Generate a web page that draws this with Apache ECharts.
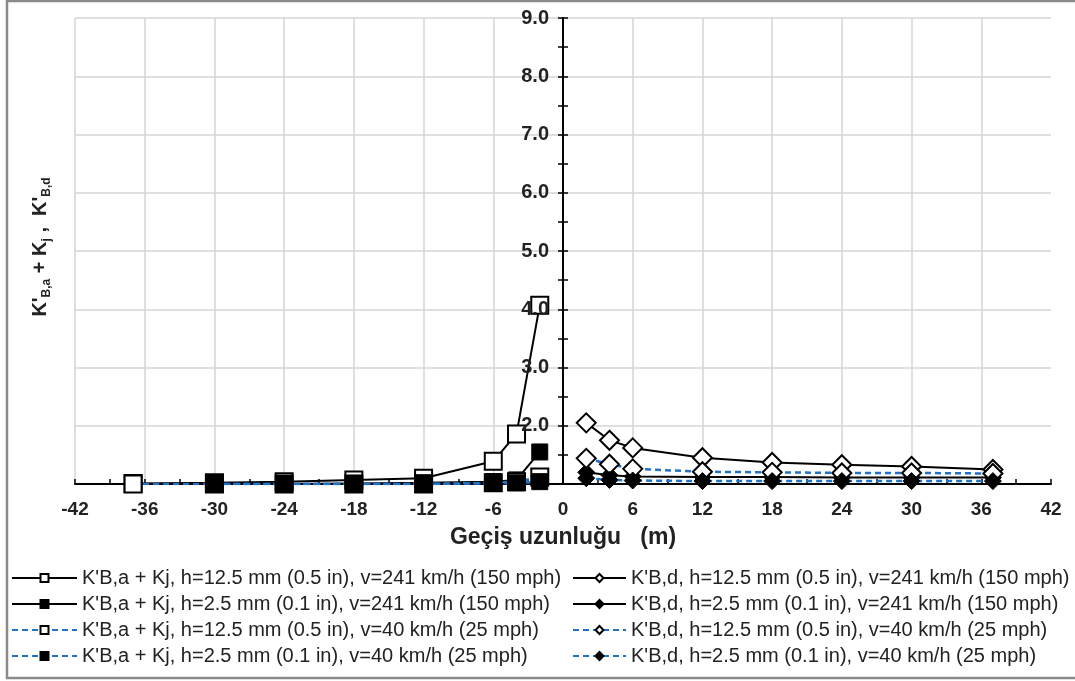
<!DOCTYPE html>
<html>
<head>
<meta charset="utf-8">
<script src="https://cdn.jsdelivr.net/npm/echarts@6/dist/echarts.min.js"></script>
<style>
html,body{margin:0;padding:0;background:#fff;}
#chart{width:1075px;height:681px;}
</style>
</head>
<body>
<div id="chart"></div>
<script>
// ---- data ----
const xLeftA = [-37, -30, -24, -18, -12, -6, -4, -2];
const xLeftB = [-30, -24, -18, -12, -6, -4, -2];
const xRight = [2, 4, 6, 12, 18, 24, 30, 37];

const kBa_h125_v241 = [1.01, 1.02, 1.04, 1.07, 1.10, 1.39, 1.86, 4.07];
const kBa_h25_v241  = [1.00, 1.00, 1.01, 1.02, 1.04, 1.07, 1.55];
const kBa_h125_v40  = [1.00, 1.00, 1.00, 1.00, 1.00, 1.02, 1.04, 1.12];
const kBa_h25_v40   = [1.00, 1.00, 1.00, 1.00, 1.01, 1.02, 1.04];

const kBd_h125_v241 = [2.05, 1.75, 1.62, 1.45, 1.37, 1.33, 1.30, 1.25];
const kBd_h25_v241  = [1.20, 1.15, 1.13, 1.12, 1.12, 1.11, 1.11, 1.11];
const kBd_h125_v40  = [1.44, 1.34, 1.26, 1.21, 1.20, 1.19, 1.19, 1.18];
const kBd_h25_v40   = [1.10, 1.07, 1.06, 1.05, 1.05, 1.05, 1.05, 1.05];

const seriesNames = [
  "K'B,a + Kj, h=12.5 mm (0.5 in), v=241 km/h (150 mph)",
  "K'B,a + Kj, h=2.5 mm (0.1 in), v=241 km/h (150 mph)",
  "K'B,a + Kj, h=12.5 mm (0.5 in), v=40 km/h (25 mph)",
  "K'B,a + Kj, h=2.5 mm (0.1 in), v=40 km/h (25 mph)",
  "K'B,d, h=12.5 mm (0.5 in), v=241 km/h (150 mph)",
  "K'B,d, h=2.5 mm (0.1 in), v=241 km/h (150 mph)",
  "K'B,d, h=12.5 mm (0.5 in), v=40 km/h (25 mph)",
  "K'B,d, h=2.5 mm (0.1 in), v=40 km/h (25 mph)"
];

const xAxisName = 'Geçiş uzunluğu   (m)';

function pairs(xs, ys) { return xs.map((x, i) => [x, ys[i]]); }

const BLUE = '#1f72c4';
const solidBlack = { color: '#000', width: 2, type: 'solid' };
const dashedBlue = { color: BLUE, width: 2.5, type: [6, 4] };
const openStyle = { color: '#fff', borderColor: '#000', borderWidth: 2 };
const fillStyle = { color: '#000', borderColor: '#000', borderWidth: 1 };

function mk(name, data, line, symbol, size, item) {
  return {
    name: name, type: 'line', data: data,
    symbol: symbol, symbolSize: size, showAllSymbol: true,
    lineStyle: line, itemStyle: item,
    emphasis: { disabled: true }, animation: false
  };
}

const series = [
  mk(seriesNames[0], pairs(xLeftA, kBa_h125_v241), solidBlack, 'rect', 17, openStyle),
  mk(seriesNames[1], pairs(xLeftB, kBa_h25_v241), solidBlack, 'rect', 16, fillStyle),
  mk(seriesNames[2], pairs(xLeftA, kBa_h125_v40), dashedBlue, 'rect', 17, openStyle),
  mk(seriesNames[3], pairs(xLeftB, kBa_h25_v40), dashedBlue, 'rect', 16, fillStyle),
  mk(seriesNames[4], pairs(xRight, kBd_h125_v241), solidBlack, 'diamond', 19, openStyle),
  mk(seriesNames[5], pairs(xRight, kBd_h25_v241), solidBlack, 'diamond', 17, fillStyle),
  mk(seriesNames[6], pairs(xRight, kBd_h125_v40), dashedBlue, 'diamond', 19, openStyle),
  mk(seriesNames[7], pairs(xRight, kBd_h25_v40), dashedBlue, 'diamond', 17, fillStyle)
];

const FONT = 'Liberation Sans, Arial, sans-serif';
const gridColor = '#d4d4d4';
const GRID_LEFT = 75, GRID_RIGHT = 24;
// y axis sits where x = 0 (middle of the symmetric -42..42 range)
const yAxisShift = -(1075 - GRID_LEFT - GRID_RIGHT) / 2;
const tickLine = { color: '#000', width: 1.5 };

const chart = echarts.init(document.getElementById('chart'), null, { renderer: 'canvas' });
chart.setOption({
  animation: false,
  backgroundColor: '#fff',
  grid: { left: GRID_LEFT, right: GRID_RIGHT, top: 18, bottom: 197, containLabel: false, outerBoundsMode: 'none' },
  xAxis: [{
    type: 'value', min: -42, max: 42, interval: 6,
    name: xAxisName, nameLocation: 'middle', nameGap: 42,
    nameTextStyle: { fontFamily: FONT, fontWeight: 'bold', fontSize: 23, color: '#222' },
    axisLine: { onZero: true, lineStyle: { color: '#000', width: 2 } },
    axisTick: { show: true, inside: true, length: 5, lineStyle: tickLine },
    minorTick: { show: true, splitNumber: 2, length: 5, lineStyle: tickLine },
    axisLabel: { fontFamily: FONT, fontWeight: 'bold', fontSize: 19, color: '#222', margin: 16 },
    splitLine: { show: true, showMaxLine: false, lineStyle: { color: gridColor, width: 1.5 } }
  }],
  yAxis: [{
    // grid lines only (drawn below the series)
    type: 'value', min: 1, max: 9, interval: 1, position: 'left',
    axisLine: { show: false, onZero: false },
    axisTick: { show: false }, axisLabel: { show: false },
    splitLine: { show: true, lineStyle: { color: gridColor, width: 1.5 } }
  }, {
    // axis line, outer ticks and labels on top of the series
    type: 'value', min: 1, max: 9, interval: 1, position: 'left', offset: yAxisShift, z: 5,
    axisLine: { show: true, onZero: false, lineStyle: { color: '#000', width: 2 } },
    axisTick: { show: true, inside: false, length: 5, lineStyle: tickLine },
    minorTick: { show: true, splitNumber: 2, length: 5, lineStyle: tickLine },
    axisLabel: { fontFamily: FONT, fontWeight: 'bold', fontSize: 20, color: '#222', margin: 14,
      showMinLabel: false, formatter: v => v.toFixed(1) },
    splitLine: { show: false }
  }, {
    // inner half of the crossing ticks
    type: 'value', min: 1, max: 9, interval: 1, position: 'left', offset: yAxisShift, z: 5,
    axisLine: { show: false, onZero: false },
    axisTick: { show: true, inside: true, length: 5, lineStyle: tickLine },
    minorTick: { show: true, splitNumber: 2, length: 5, lineStyle: tickLine },
    axisLabel: { show: false },
    splitLine: { show: false }
  }],
  legend: [{
    data: seriesNames.slice(0, 4), orient: 'vertical', left: 6, top: 563,
    itemWidth: 65, itemHeight: 10, itemGap: 6,
    textStyle: { fontFamily: FONT, fontSize: 20, color: '#222', lineHeight: 20 },
    selectedMode: false
  }, {
    data: seriesNames.slice(4), orient: 'vertical', left: 567, top: 563,
    itemWidth: 53, itemHeight: 10, itemGap: 6,
    textStyle: { fontFamily: FONT, fontSize: 20, color: '#222', lineHeight: 20 },
    selectedMode: false
  }],
  graphic: [{
    type: 'rect', silent: true, z: -1,
    shape: { x: 7, y: 1, width: 1080, height: 677 },
    style: { fill: 'none', stroke: '#8a8a8a', lineWidth: 2.5 }
  }, {
    type: 'text', silent: true, x: 40, y: 247, rotation: Math.PI / 2,
    style: {
      text: "{m|K'}{s|B,a}{m| + K}{s|j}{m| ,  K'}{s|B,d}",
      align: 'center', verticalAlign: 'middle', textAlign: 'center', textVerticalAlign: 'middle',
      fill: '#222',
      rich: {
        m: { fontFamily: FONT, fontWeight: 'bold', fontSize: 20, lineHeight: 26, verticalAlign: 'middle', fill: '#222' },
        s: { fontFamily: FONT, fontWeight: 'bold', fontSize: 12, lineHeight: 26, verticalAlign: 'bottom', fill: '#222' }
      }
    }
  }],
  series: series
});
</script>
</body>
</html>
